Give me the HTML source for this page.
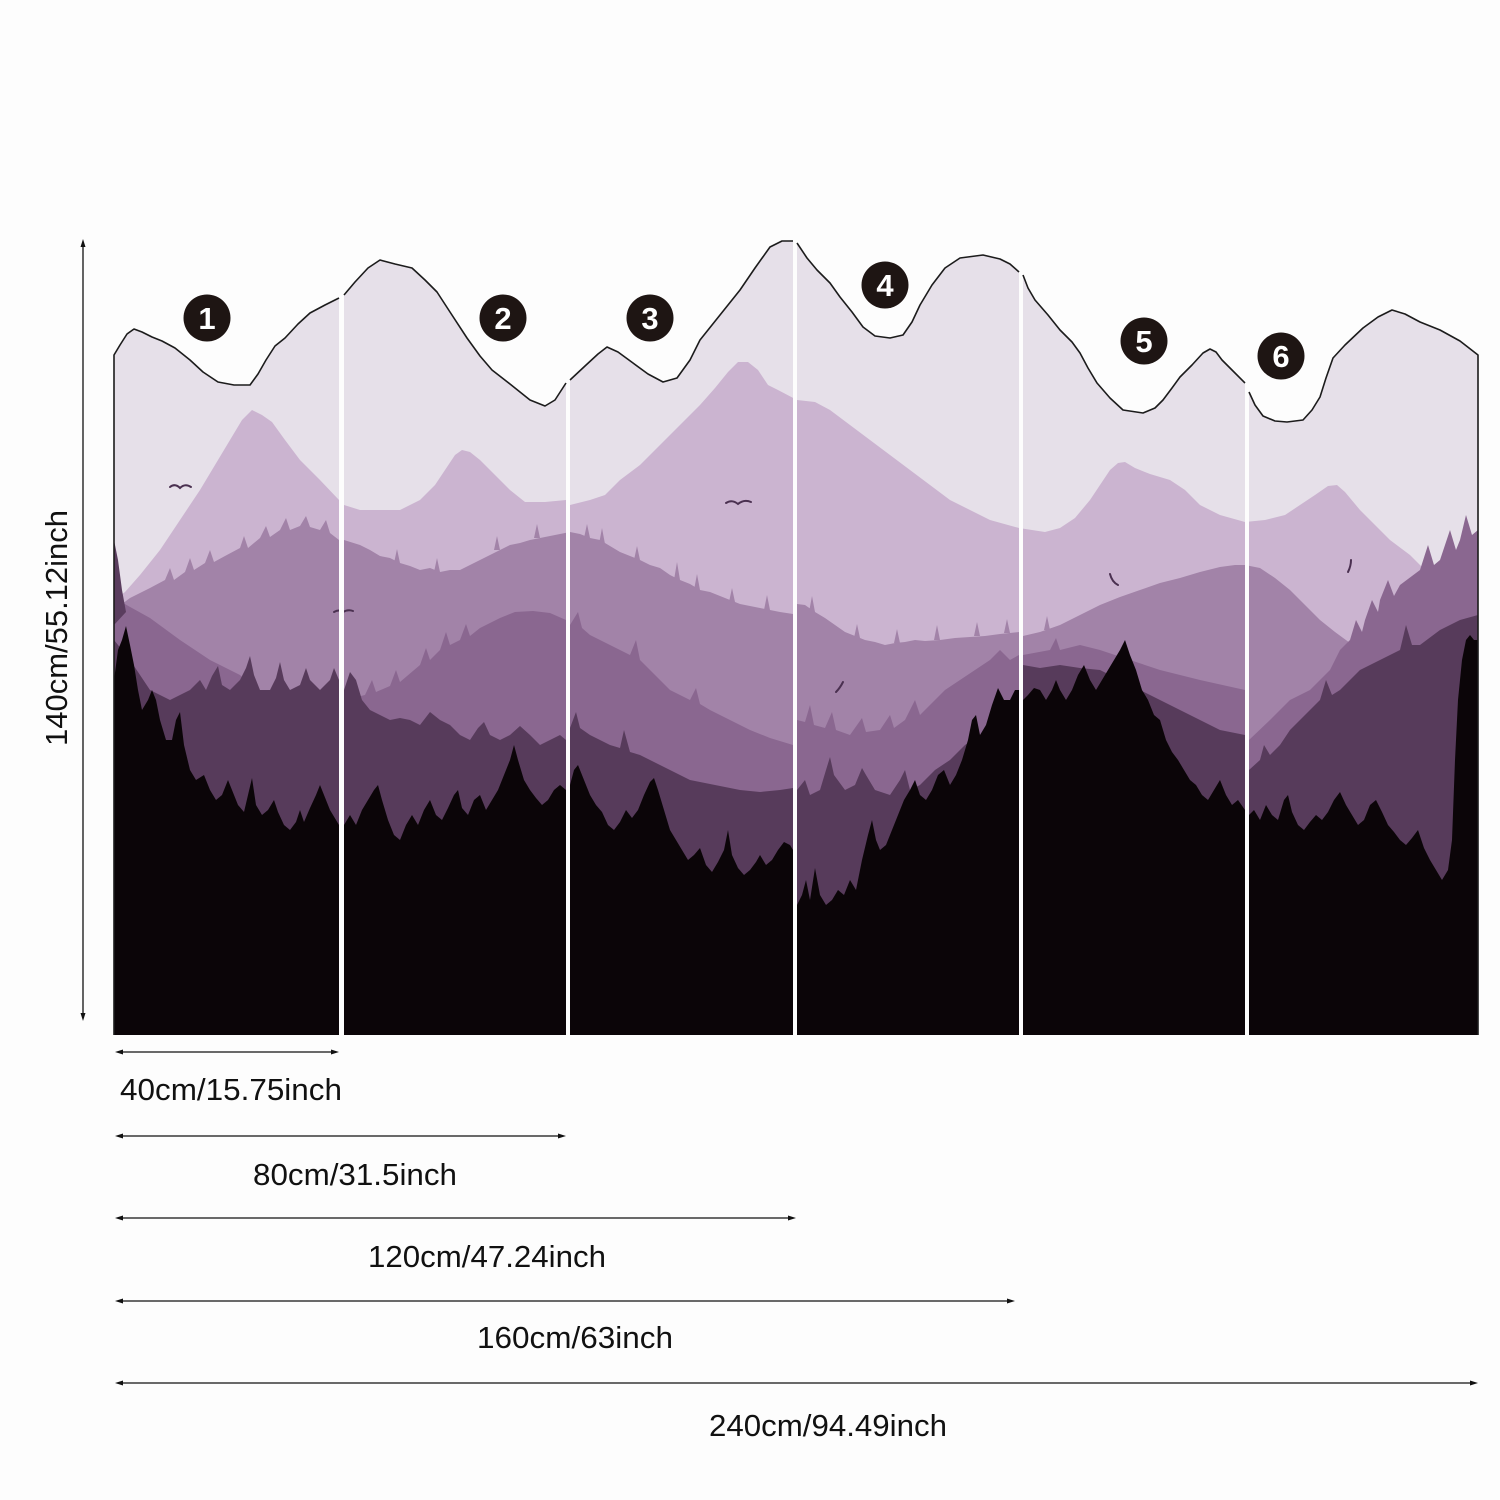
<!DOCTYPE html>
<html><head><meta charset="utf-8"><style>
html,body{margin:0;padding:0;background:#fdfdfd;}
svg{display:block;}
text{font-family:"Liberation Sans","Noto Sans CJK SC",sans-serif;}
</style></head><body>
<svg width="1500" height="1500" viewBox="0 0 1500 1500" xmlns="http://www.w3.org/2000/svg">
<defs>
<clipPath id="panels">
<path d="M114,355 L120,345 L127,334 L134,329 L142,332 L152,337 L162,341 L175,348 L190,360 L203,372 L218,382 L234,385 L250,385 L258,374 L266,360 L275,346 L285,338 L298,324 L310,313 L325,305 L339,298 L339,1035 L114,1035 Z"/>
<path d="M344,295 L355,282 L368,268 L380,260 L395,264 L412,268 L425,280 L437,292 L450,312 L467,338 L480,356 L492,370 L510,384 L530,400 L545,406 L555,400 L566,383 L566,1035 L344,1035 Z"/>
<path d="M570,380 L585,366 L598,354 L607,347 L618,352 L633,363 L648,374 L663,382 L677,378 L690,360 L700,340 L720,315 L740,290 L755,268 L770,247 L782,241 L793,241 L793,1035 L570,1035 Z"/>
<path d="M797,243 L807,258 L817,270 L830,283 L840,297 L852,312 L863,327 L875,336 L890,338 L903,335 L912,322 L920,305 L932,285 L945,268 L960,258 L983,255 L1000,259 L1010,264 L1019,272 L1019,1035 L797,1035 Z"/>
<path d="M1023,275 L1028,288 L1035,300 L1048,315 L1060,330 L1072,342 L1080,353 L1088,368 L1097,383 L1110,398 L1123,410 L1143,413 L1155,408 L1163,400 L1172,388 L1180,377 L1192,365 L1203,353 L1210,349 L1216,352 L1222,360 L1232,370 L1245,383 L1245,1035 L1023,1035 Z"/>
<path d="M1249,392 L1255,405 L1263,416 L1275,421 L1287,422 L1303,420 L1312,410 L1320,397 L1326,378 L1333,358 L1345,345 L1363,328 L1378,317 L1392,310 L1405,314 L1420,322 L1440,330 L1460,341 L1478,355 L1478,1035 L1249,1035 Z"/>
</clipPath>
</defs>

<g clip-path="url(#panels)">
<!-- sky -->
<rect x="100" y="230" width="1400" height="820" fill="#e6e0e9"/>
<!-- layer 2 light mauve mountains -->
<path fill="#cbb4d0" d="M114,600 L125,592 L140,575 L160,550 L180,520 L200,490 L215,465 L230,440 L242,420 L252,410 L262,415 L272,422 L285,440 L300,460 L320,480 L339,500 L344,505 L360,510 L380,510 L400,510 L420,500 L435,485 L445,470 L455,455 L462,450 L470,452 L480,460 L495,475 L510,490 L525,502 L545,502 L566,500 L570,505 L590,500 L605,495 L620,480 L640,465 L660,445 L680,425 L700,405 L715,388 L728,372 L738,362 L748,362 L758,370 L768,385 L778,390 L797,400 L815,402 L830,410 L850,425 L870,440 L890,455 L910,470 L930,485 L950,500 L970,510 L990,520 L1019,528 L1045,532 L1060,528 L1075,518 L1090,500 L1100,485 L1110,470 L1118,463 L1125,462 L1135,468 L1150,474 L1170,480 L1185,490 L1200,505 L1220,515 L1245,522 L1265,520 L1285,515 L1300,505 L1315,495 L1328,486 L1337,485 L1345,492 L1360,510 L1375,525 L1390,540 L1410,555 L1430,575 L1450,590 L1478,600 L1478,1040 L114,1040 Z"/>
<!-- layer 3 mid mauve with tree fringe -->
<path fill="#a283a8" d="M114,610 L130,598 L150,588 L165,580 L170,568 L174,580 L185,572 L190,558 L194,570 L205,563 L210,550 L214,562 L225,556 L240,548 L244,536 L248,548 L260,538 L266,526 L270,537 L280,530 L286,518 L290,530 L300,526 L306,516 L310,527 L320,530 L326,520 L330,533 L339,540 L344,540 L360,545 L370,550 L380,556 L390,558 L400,563 L410,566 L420,570 L430,568 L440,572 L450,570 L460,570 L470,565 L480,560 L490,555 L500,550 L510,545 L520,543 L530,540 L540,538 L550,536 L560,534 L570,532 L580,534 L590,538 L600,540 L610,546 L620,552 L630,556 L640,560 L650,565 L660,568 L670,575 L680,580 L690,584 L700,590 L710,592 L720,596 L730,600 L740,604 L750,606 L760,608 L770,610 L780,612 L793,614 L797,604 L805,605 L815,612 L825,618 L835,625 L845,632 L855,636 L865,640 L875,642 L885,645 L895,643 L905,642 L915,640 L925,641 L940,640 L955,638 L970,637 L985,636 L1000,634 L1019,632 L1023,636 L1040,632 L1060,625 L1080,615 L1100,605 L1120,597 L1140,590 L1160,583 L1180,578 L1200,572 L1220,567 L1235,565 L1245,565 L1260,568 L1275,578 L1290,590 L1305,605 L1320,620 L1335,632 L1350,643 L1365,650 L1400,660 L1478,660 L1478,1040 L114,1040 Z"/>
<!-- small tree fringes on layer 3 -->
<path fill="#a283a8" d="M590,538 l-3,-14 l-3,14z M605,544 l-3,-16 l-3,16z M640,560 l-3,-14 l-3,14z M680,580 l-3,-18 l-3,18z M700,590 l-3,-16 l-3,16z M735,602 l-3,-14 l-3,14z M770,610 l-3,-15 l-3,15z M815,612 l-3,-16 l-3,16z M860,638 l-3,-14 l-3,14z M900,643 l-3,-14 l-3,14z M940,640 l-3,-15 l-3,15z M980,636 l-3,-14 l-3,14z M1010,633 l-3,-14 l-3,14z M1050,630 l-3,-14 l-3,14z M400,563 l-3,-14 l-3,14z M440,572 l-3,-14 l-3,14z M500,550 l-3,-14 l-3,14z M540,538 l-3,-14 l-3,14z"/>
<!-- layer 4 darker mauve -->
<path fill="#8a6790" d="M114,598 L150,618 L180,640 L210,660 L240,675 L260,695 L339,700 L344,700 L365,695 L372,680 L376,692 L390,686 L396,670 L400,682 L420,665 L426,648 L430,660 L440,650 L446,632 L450,645 L460,640 L466,624 L470,636 L480,628 L500,618 L515,612 L533,611 L550,613 L566,620 L570,625 L578,612 L582,628 L590,635 L610,645 L630,655 L636,640 L640,660 L650,670 L670,690 L690,700 L696,688 L700,704 L710,710 L730,720 L750,730 L770,738 L793,745 L797,720 L805,722 L810,705 L814,725 L825,728 L832,712 L836,730 L850,735 L862,718 L866,732 L880,730 L890,715 L894,728 L905,720 L915,700 L920,715 L935,700 L945,690 L960,680 L975,670 L990,660 L1000,650 L1010,660 L1019,655 L1023,655 L1050,650 L1056,638 L1060,650 L1080,645 L1100,650 L1130,660 L1160,670 L1200,680 L1245,690 L1249,740 L1270,720 L1290,700 L1310,690 L1330,670 L1340,650 L1350,640 L1356,620 L1362,632 L1365,620 L1372,600 L1378,612 L1380,600 L1388,580 L1394,596 L1400,585 L1420,570 L1428,545 L1434,565 L1440,560 L1450,530 L1456,550 L1460,540 L1466,515 L1472,535 L1478,530 L1478,1040 L114,1040 Z"/>
<!-- dark purple -->
<path fill="#573b5b" d="M114,640 L130,660 L150,690 L170,700 L190,690 L200,680 L206,690 L212,676 L218,666 L222,685 L230,690 L240,680 L246,668 L250,656 L254,675 L260,690 L270,690 L276,678 L280,662 L284,680 L290,690 L300,685 L306,668 L310,680 L320,690 L330,680 L334,668 L339,680 L344,690 L350,672 L356,680 L362,700 L370,710 L380,715 L390,720 L400,718 L410,720 L420,725 L430,712 L440,720 L450,725 L460,735 L470,740 L478,728 L484,722 L490,735 L500,740 L510,735 L520,726 L530,735 L540,745 L550,740 L560,735 L566,740 L570,728 L576,712 L580,728 L590,735 L600,740 L610,745 L620,748 L624,730 L630,752 L640,755 L650,760 L660,765 L670,770 L680,775 L690,780 L700,782 L720,786 L740,790 L760,792 L780,790 L793,788 L797,790 L805,780 L810,795 L820,790 L826,770 L830,757 L834,775 L845,790 L855,785 L862,768 L866,775 L875,790 L890,795 L900,780 L905,770 L910,790 L920,785 L935,770 L950,760 L965,745 L980,735 L1000,720 L1019,715 L1023,665 L1040,668 L1060,665 L1080,668 L1100,670 L1120,680 L1140,690 L1160,700 L1180,710 L1200,720 L1220,730 L1245,735 L1249,770 L1260,760 L1264,745 L1270,755 L1280,745 L1290,730 L1300,720 L1320,700 L1326,680 L1332,695 L1340,690 L1350,680 L1360,670 L1380,660 L1400,650 L1406,625 L1412,645 L1420,645 L1440,630 L1460,620 L1478,615 L1478,1040 L114,1040 Z"/>
<!-- left cliff -->
<path fill="#5a3d5e" d="M114,540 L118,560 L122,590 L126,612 L114,625 Z"/>
<!-- black foreground -->
<path fill="#0b0508" d="M114,1040 L114,680 L118,650 L122,640 L126,626 L130,645 L134,665 L138,690 L142,710 L148,700 L152,690 L156,700 L160,720 L166,740 L172,740 L176,720 L180,712 L184,745 L190,770 L196,780 L204,775 L210,790 L216,800 L222,795 L228,780 L232,790 L238,805 L244,812 L248,795 L252,778 L256,805 L262,815 L268,810 L274,800 L278,812 L284,825 L290,830 L296,822 L300,810 L304,822 L310,808 L316,795 L320,785 L324,795 L330,810 L336,820 L339,825 L344,825 L350,815 L356,825 L362,810 L368,800 L374,790 L378,785 L382,800 L388,820 L394,835 L400,840 L406,825 L412,815 L418,825 L424,810 L430,800 L436,815 L442,820 L448,808 L454,795 L458,790 L462,808 L468,815 L474,800 L480,795 L486,810 L492,800 L498,790 L504,775 L510,760 L514,745 L518,760 L524,780 L530,790 L536,798 L542,805 L548,800 L554,790 L560,785 L566,790 L570,785 L574,770 L578,765 L584,780 L590,795 L596,805 L602,812 L608,825 L614,830 L620,822 L626,810 L632,818 L638,810 L644,795 L650,782 L654,778 L658,790 L664,810 L670,830 L676,840 L682,850 L688,860 L694,855 L700,848 L706,865 L712,872 L718,862 L724,850 L728,830 L732,855 L738,868 L744,875 L750,870 L756,862 L760,855 L766,865 L772,860 L778,850 L784,842 L790,845 L793,850 L797,905 L802,895 L806,880 L810,900 L815,868 L820,895 L826,905 L832,900 L838,890 L844,895 L850,880 L856,890 L862,860 L868,835 L872,820 L876,840 L880,850 L886,845 L892,830 L898,815 L904,800 L910,790 L915,780 L920,795 L926,800 L932,790 L938,775 L944,770 L950,785 L956,775 L962,760 L968,740 L972,720 L976,715 L980,735 L986,725 L992,705 L998,688 L1004,700 L1010,700 L1015,690 L1019,690 L1023,700 L1028,695 L1034,688 L1040,690 L1046,700 L1052,690 L1056,680 L1060,690 L1066,700 L1072,690 L1078,675 L1084,665 L1090,680 L1096,690 L1102,680 L1108,670 L1114,660 L1120,650 L1125,640 L1130,655 L1136,670 L1142,690 L1148,700 L1154,715 L1160,720 L1166,740 L1172,752 L1178,760 L1184,770 L1190,780 L1196,785 L1202,795 L1208,800 L1214,790 L1220,780 L1226,795 L1232,805 L1238,800 L1245,810 L1249,815 L1254,810 L1260,820 L1266,805 L1272,815 L1278,820 L1284,800 L1288,795 L1292,812 L1298,825 L1304,830 L1310,822 L1316,815 L1322,820 L1328,812 L1334,800 L1340,792 L1346,805 L1352,815 L1358,825 L1364,820 L1370,805 L1376,800 L1382,812 L1388,825 L1394,832 L1400,840 L1406,845 L1412,838 L1418,830 L1424,848 L1430,860 L1436,870 L1442,880 L1448,870 L1452,840 L1455,760 L1458,700 L1462,660 L1466,640 L1470,635 L1474,640 L1478,640 L1478,1040 Z"/>
<!-- solid black base -->
<rect x="100" y="905" width="1400" height="140" fill="#0b0508"/>
<!-- birds -->
<g fill="none" stroke="#4a3050" stroke-width="2" stroke-linecap="round">
<path d="M170,487 q5,-4 10,1 q5,-5 11,-1"/>
<path d="M334,612 q5,-3 9,0 q5,-3 10,-1"/>
<path d="M726,503 q6,-4 12,1 q6,-5 13,-2"/>
<path d="M836,692 q4,-4 7,-10"/>
<path d="M1110,574 q2,8 8,11"/>
<path d="M1348,572 q3,-6 3,-12"/>
</g>
</g>

<!-- top outlines -->
<g fill="none" stroke="#1c1c1c" stroke-width="1.6" stroke-linejoin="round">
<path d="M114,1035 L114,355 L120,345 L127,334 L134,329 L142,332 L152,337 L162,341 L175,348 L190,360 L203,372 L218,382 L234,385 L250,385 L258,374 L266,360 L275,346 L285,338 L298,324 L310,313 L325,305 L339,298"/>
<path d="M344,295 L355,282 L368,268 L380,260 L395,264 L412,268 L425,280 L437,292 L450,312 L467,338 L480,356 L492,370 L510,384 L530,400 L545,406 L555,400 L566,383"/>
<path d="M570,380 L585,366 L598,354 L607,347 L618,352 L633,363 L648,374 L663,382 L677,378 L690,360 L700,340 L720,315 L740,290 L755,268 L770,247 L782,241 L793,241"/>
<path d="M797,243 L807,258 L817,270 L830,283 L840,297 L852,312 L863,327 L875,336 L890,338 L903,335 L912,322 L920,305 L932,285 L945,268 L960,258 L983,255 L1000,259 L1010,264 L1019,272"/>
<path d="M1023,275 L1028,288 L1035,300 L1048,315 L1060,330 L1072,342 L1080,353 L1088,368 L1097,383 L1110,398 L1123,410 L1143,413 L1155,408 L1163,400 L1172,388 L1180,377 L1192,365 L1203,353 L1210,349 L1216,352 L1222,360 L1232,370 L1245,383"/>
<path d="M1249,392 L1255,405 L1263,416 L1275,421 L1287,422 L1303,420 L1312,410 L1320,397 L1326,378 L1333,358 L1345,345 L1363,328 L1378,317 L1392,310 L1405,314 L1420,322 L1440,330 L1460,341 L1478,355 L1478,1035"/>
</g>

<!-- numbered circles -->
<g fill="#1e1513">
<circle cx="207" cy="318" r="23.5"/>
<circle cx="503" cy="318" r="23.5"/>
<circle cx="650" cy="318" r="23.5"/>
<circle cx="885" cy="285" r="23.5"/>
<circle cx="1144" cy="341" r="23.5"/>
<circle cx="1281" cy="356" r="23.5"/>
</g>
<g fill="#ffffff" font-size="31" font-weight="bold" text-anchor="middle">
<text x="207" y="329">1</text>
<text x="503" y="329">2</text>
<text x="650" y="329">3</text>
<text x="885" y="296">4</text>
<text x="1144" y="352">5</text>
<text x="1281" y="367">6</text>
</g>

<!-- dimension arrows -->
<g stroke="#111" stroke-width="1.3" fill="none">
<line x1="83" y1="244" x2="83" y2="1016"/>
<line x1="120" y1="1052" x2="334" y2="1052"/>
<line x1="120" y1="1136" x2="561" y2="1136"/>
<line x1="120" y1="1218" x2="791" y2="1218"/>
<line x1="120" y1="1301" x2="1010" y2="1301"/>
<line x1="120" y1="1383" x2="1473" y2="1383"/>
</g>
<g fill="#111">
<path d="M83,239 L80.5,247 L85.5,247 Z"/>
<path d="M83,1021 L80.5,1013 L85.5,1013 Z"/>
<path d="M115,1052 L123,1049.5 L123,1054.5 Z"/><path d="M339,1052 L331,1049.5 L331,1054.5 Z"/>
<path d="M115,1136 L123,1133.5 L123,1138.5 Z"/><path d="M566,1136 L558,1133.5 L558,1138.5 Z"/>
<path d="M115,1218 L123,1215.5 L123,1220.5 Z"/><path d="M796,1218 L788,1215.5 L788,1220.5 Z"/>
<path d="M115,1301 L123,1298.5 L123,1303.5 Z"/><path d="M1015,1301 L1007,1298.5 L1007,1303.5 Z"/>
<path d="M115,1383 L123,1380.5 L123,1385.5 Z"/><path d="M1478,1383 L1470,1380.5 L1470,1385.5 Z"/>
</g>

<!-- labels -->
<g fill="#111" font-size="31">
<text x="120" y="1100" textLength="222" lengthAdjust="spacingAndGlyphs">40cm/15.75inch</text>
<text x="253" y="1185" textLength="204" lengthAdjust="spacingAndGlyphs">80cm/31.5inch</text>
<text x="368" y="1267" textLength="238" lengthAdjust="spacingAndGlyphs">120cm/47.24inch</text>
<text x="477" y="1348" textLength="196" lengthAdjust="spacingAndGlyphs">160cm/63inch</text>
<text x="709" y="1436" textLength="238" lengthAdjust="spacingAndGlyphs">240cm/94.49inch</text>
<text transform="translate(67,746) rotate(-90)" x="0" y="0" textLength="236" lengthAdjust="spacingAndGlyphs">140cm/55.12inch</text>
</g>
</svg>
</body></html>
